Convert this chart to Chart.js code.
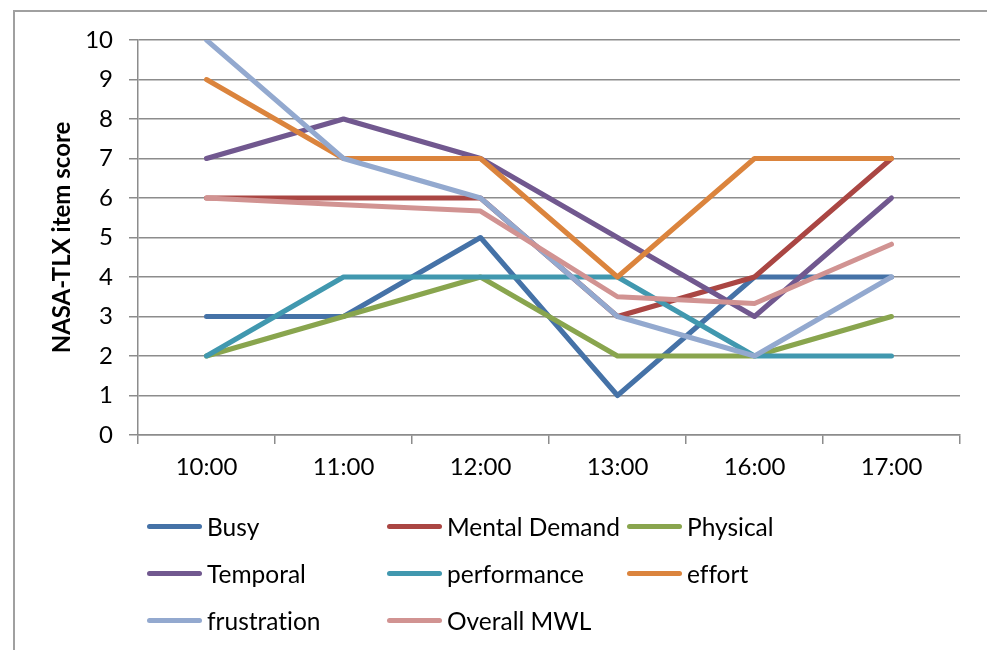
<!DOCTYPE html>
<html>
<head>
<meta charset="utf-8">
<script src="https://cdn.jsdelivr.net/npm/chart.js@4"></script>
<style>
  body { margin: 0; background: #fff; }
  #wrap { position: relative; width: 987px; height: 650px; overflow: hidden; }
  #frame { position: absolute; left: 13px; top: 10px; width: 1000px; height: 700px; border: 2px solid #a0a0a0; box-sizing: border-box; }
  canvas { position: absolute; left: 0; top: 0; }
  #legend { position: absolute; left: 147px; top: 503px; display: grid; grid-template-columns: 240px 240px 240px; grid-auto-rows: 47px; font-family: Lato, sans-serif; font-size: 24.5px; color: #000; font-variant-ligatures: none; }
  .item { display: flex; align-items: center; white-space: nowrap; }
  .swatch { width: 55px; height: 5px; border-radius: 3px; margin-right: 5px; }
</style>
</head>
<body>
<div id="wrap">
  <div id="frame"></div>
  <canvas id="tlxChart" width="987" height="650"></canvas>
  <div id="legend"></div>
</div>
<script>
// --- Data ---
const hours = ['10:00', '11:00', '12:00', '13:00', '16:00', '17:00'];
const busy        = [3, 3, 5, 1, 4, 4];
const mental      = [6, 6, 6, 3, 4, 7];
const physical    = [2, 3, 4, 2, 2, 3];
const temporal    = [7, 8, 7, 5, 3, 6];
const performance = [2, 4, 4, 4, 2, 2];
const effort      = [9, 7, 7, 4, 7, 7];
const frustration = [10, 7, 6, 3, 2, 4];
const overallMWL  = [6, 5.83, 5.67, 3.5, 3.33, 4.83];
const yTicks = [0, 1, 2, 3, 4, 5, 6, 7, 8, 9, 10];

const series = [
  ['Busy', busy, '#4572A7'],
  ['Mental Demand', mental, '#AA4643'],
  ['Physical', physical, '#89A54E'],
  ['Temporal', temporal, '#71588F'],
  ['performance', performance, '#4198AF'],
  ['effort', effort, '#DB843D'],
  ['frustration', frustration, '#93A9CF'],
  ['Overall MWL', overallMWL, '#D19392']
];

const gridGrey = '#8c8c8c';
const font = 'Lato, sans-serif';

// later series sit on top of earlier ones
const datasets = series.map(([label, data, color], i) => ({
  label,
  data,
  borderColor: color,
  backgroundColor: color,
  borderWidth: 5,
  borderCapStyle: 'round',
  borderJoinStyle: 'round',
  pointRadius: 0,
  tension: 0,
  order: series.length - i
}));

const ctx = document.getElementById('tlxChart').getContext('2d');
const chart = new Chart(ctx, {
  type: 'line',
  data: { labels: hours, datasets },
  options: {
    responsive: false,
    animation: false,
    layout: { padding: { left: 38, top: 40, right: 27, bottom: 165 } },
    plugins: { legend: { display: false }, tooltip: { enabled: false } },
    scales: {
      x: {
        offset: true,
        grid: { offset: true, drawOnChartArea: false, color: gridGrey, lineWidth: 1.5, tickLength: 9 },
        border: { color: gridGrey, width: 1.5 },
        ticks: { color: '#000', font: { family: font, size: 24 }, padding: 9, maxRotation: 0 },
        afterFit(scale) {
          scale.height = 50;
          scale.paddingLeft = 0;
          scale.paddingRight = 0;
        }
      },
      y: {
        min: 0,
        max: 10,
        afterBuildTicks(scale) {
          scale.ticks = yTicks.map(v => ({ value: v }));
        },
        grid: { color: gridGrey, lineWidth: 1.5, tickLength: 9 },
        border: { color: gridGrey, width: 1.5 },
        ticks: { color: '#000', font: { family: font, size: 24 }, padding: 16 },
        title: {
          display: true,
          text: 'NASA-TLX item score',
          color: '#000',
          font: { family: font, size: 24, weight: 'bold' },
          padding: { top: 10, bottom: 0 }
        },
        afterFit(scale) {
          scale.width = 100;
          scale.paddingTop = 0;
          scale.paddingBottom = 0;
        }
      }
    }
  }
});

// --- Legend, three columns ---
const legend = document.getElementById('legend');
chart.data.datasets.forEach(ds => {
  const item = document.createElement('div');
  item.className = 'item';
  item.innerHTML = `<span class="swatch" style="background:${ds.borderColor}"></span><span>${ds.label}</span>`;
  legend.appendChild(item);
});
</script>
</body>
</html>
